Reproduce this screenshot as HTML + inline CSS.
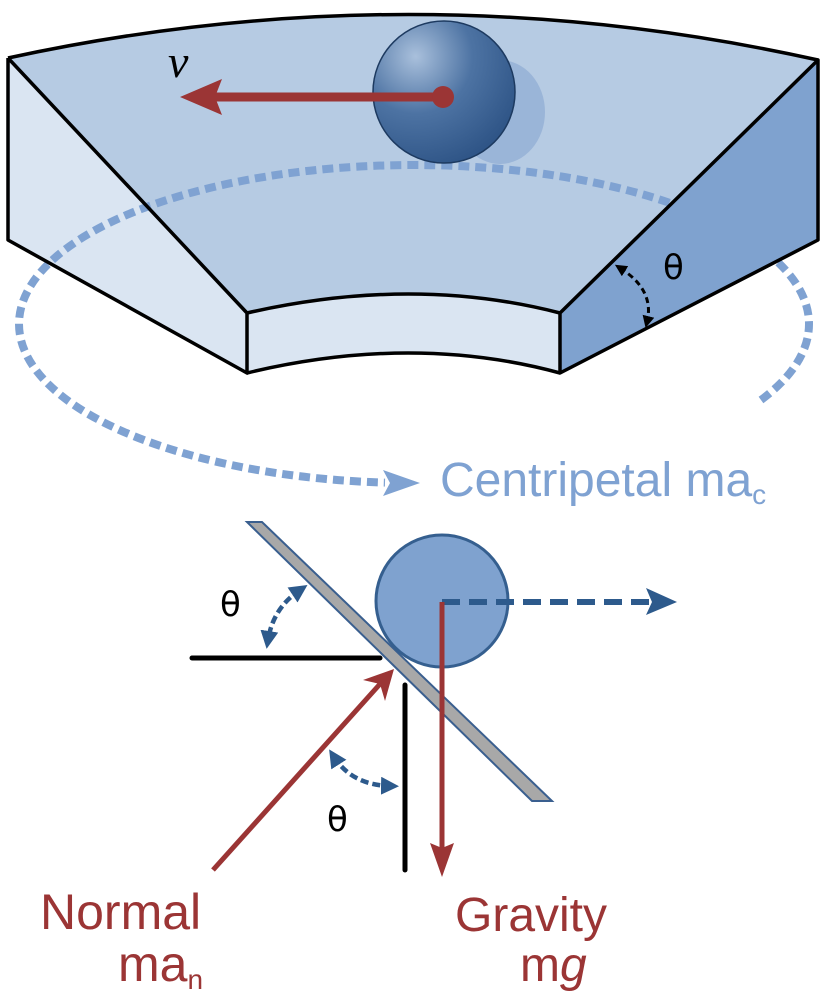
<!DOCTYPE html>
<html><head><style>body{margin:0;background:#fff}svg{display:block}</style></head><body>
<svg width="826" height="997" viewBox="0 0 826 997" xmlns="http://www.w3.org/2000/svg">
<defs>
<radialGradient id="bg" cx="0.3" cy="0.25" r="0.8">
<stop offset="0" stop-color="#a9c0dc"/><stop offset="0.5" stop-color="#4d73a3"/><stop offset="1" stop-color="#2f5587"/></radialGradient>
<marker id="ah" viewBox="0 0 10 10" refX="5" refY="5" markerWidth="4" markerHeight="4" orient="auto-start-reverse"><path d="M0,0L10,5L0,10z" fill="#2d5a8c"/></marker>
<marker id="ak" viewBox="0 0 10 10" refX="5" refY="5" markerWidth="4" markerHeight="4" orient="auto-start-reverse"><path d="M0,0L10,5L0,10z" fill="#000"/></marker>
</defs>
<path d="M8,58 Q413,-30 818,60 L560,313 Q413,275 247,313 Z" fill="#b6cbe3"/>
<path d="M8,58 L247,313 L247,373 L8,240 Z" fill="#dae5f2"/>
<path d="M247,313 Q413,275 560,313 L560,373 Q413,333 247,373 Z" fill="#dae5f2"/>
<ellipse cx="500" cy="112" rx="45" ry="52" fill="#8eabd3" opacity="0.7"/>
<path d="M761,400 A395,159 0 1 0 385,482.6" fill="none" stroke="#7fa2d2" stroke-width="8" stroke-dasharray="11 6"/>
<path d="M383,470 L420,483 L383,496 L390,483 Z" fill="#7fa2d2"/>
<path d="M818,60 L818,240 L560,373 L560,313 Z" fill="#7fa2cf"/>
<g fill="none" stroke="#000" stroke-width="3.5" stroke-linejoin="round">
<path d="M8,58 Q413,-30 818,60"/>
<path d="M8,58 L8,240 L247,373 L247,313 L8,58"/>
<path d="M247,313 Q413,275 560,313"/>
<path d="M247,373 Q413,333 560,373"/>
<path d="M560,313 L560,373 L818,240 L818,60 L560,313"/>
</g>
<circle cx="444" cy="92" r="71" fill="url(#bg)" stroke="#1d3a60" stroke-width="1.5"/>
<line x1="443" y1="97" x2="215" y2="97" stroke="#9b3535" stroke-width="9"/>
<circle cx="443" cy="97" r="11" fill="#9b3535"/>
<path d="M180,97 L222,79 L215,97 L222,115 Z" fill="#9b3535"/>
<text x="168" y="77" font-family="Liberation Serif, serif" font-style="italic" font-size="46">v</text>
<path d="M620,268 Q655,290 647,322" fill="none" stroke="#000" stroke-width="3" stroke-dasharray="6 4" marker-start="url(#ak)" marker-end="url(#ak)"/>
<text x="663" y="279" font-family="DejaVu Sans, sans-serif" font-size="34">θ</text>
<text x="440" y="496" font-family="Liberation Sans, sans-serif" font-size="48" fill="#7fa2d2">Centripetal ma<tspan font-size="28" dy="8">c</tspan></text>
<path d="M247,522 L262,522 L552,801 L532,801 Z" fill="#a8a8a8" stroke="#3a5f8f" stroke-width="2"/>
<circle cx="442" cy="601" r="66" fill="#7fa2cf" stroke="#355f8f" stroke-width="3"/>
<line x1="442" y1="602" x2="650" y2="602" stroke="#2d5a8c" stroke-width="6" stroke-dasharray="18 9"/>
<path d="M677,602 L646,588 L652,602 L646,615 Z" fill="#2d5a8c"/>
<line x1="442" y1="602" x2="442" y2="850" stroke="#9b3535" stroke-width="5"/>
<path d="M442,877 L430,843 L442,848 L454,843 Z" fill="#9b3535"/>
<line x1="192" y1="658" x2="380" y2="658" stroke="#000" stroke-width="5" stroke-linecap="round"/>
<line x1="405" y1="685" x2="405" y2="870" stroke="#000" stroke-width="5" stroke-linecap="round"/>
<line x1="213" y1="870" x2="380" y2="684" stroke="#9b3535" stroke-width="5"/>
<path d="M394,669 L385,701 L380,684 L363,680 Z" fill="#9b3535"/>
<path d="M300,590 Q273,608 268,640" fill="none" stroke="#2d5a8c" stroke-width="4.5" stroke-dasharray="8 4" marker-start="url(#ah)" marker-end="url(#ah)"/>
<path d="M334,757 Q352,785 390,786" fill="none" stroke="#2d5a8c" stroke-width="4.5" stroke-dasharray="8 4" marker-start="url(#ah)" marker-end="url(#ah)"/>
<text x="220" y="616" font-family="DejaVu Sans, sans-serif" font-size="34">θ</text>
<text x="327" y="831" font-family="DejaVu Sans, sans-serif" font-size="34">θ</text>
<text x="40" y="929" font-family="Liberation Sans, sans-serif" font-size="50" fill="#9b3535">Normal</text>
<text x="118" y="981" font-family="Liberation Sans, sans-serif" font-size="50" fill="#9b3535">ma<tspan font-size="28" dy="8">n</tspan></text>
<text x="455" y="931" font-family="Liberation Sans, sans-serif" font-size="48" fill="#9b3535">Gravity</text>
<text x="520" y="981" font-family="Liberation Sans, sans-serif" font-size="48" fill="#9b3535">m<tspan font-style="italic">g</tspan></text>
</svg>
</body></html>
